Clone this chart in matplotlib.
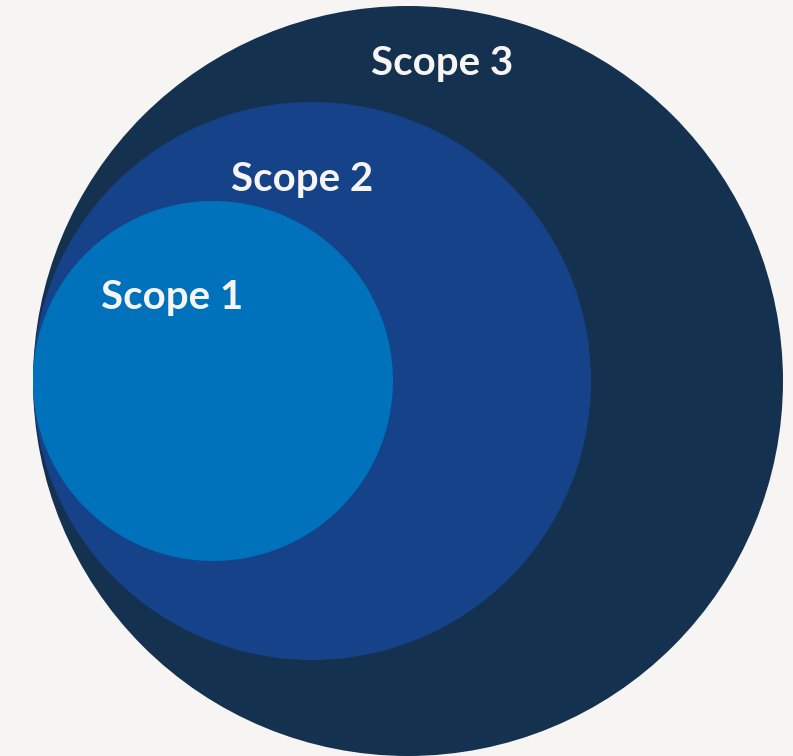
import matplotlib
matplotlib.use("Agg")
import matplotlib.pyplot as plt
from matplotlib.patches import Circle

labels = ["Scope 3", "Scope 2", "Scope 1"]
radii = [375, 279, 180]
colors = ["#14324f", "#154288", "#0071bb"]
label_offsets = [(34, -318), (-10, -202), (-41, -84)]  # label position relative to circle center

bg = "#f7f5f3"
fig = plt.figure(figsize=(7.93, 7.56), dpi=100, facecolor=bg)
ax = fig.add_axes([0, 0, 1, 1])
ax.set_facecolor(bg)
ax.set_xlim(0, 793)
ax.set_ylim(756, 0)
ax.set_aspect("equal")
ax.axis("off")

left_x = 33
cy = 381
for lab, r, c, (dx, dy) in zip(labels, radii, colors, label_offsets):
    cx = left_x + r
    ax.add_patch(Circle((cx, cy), r, facecolor=c, edgecolor="none"))
    ax.text(cx + dx, cy + dy, lab, color="#f7f5f3", fontsize=29, fontweight="bold",
            family=["Lato", "DejaVu Sans"], ha="center", va="center")

fig.savefig("out.png", dpi=100, facecolor=bg)
